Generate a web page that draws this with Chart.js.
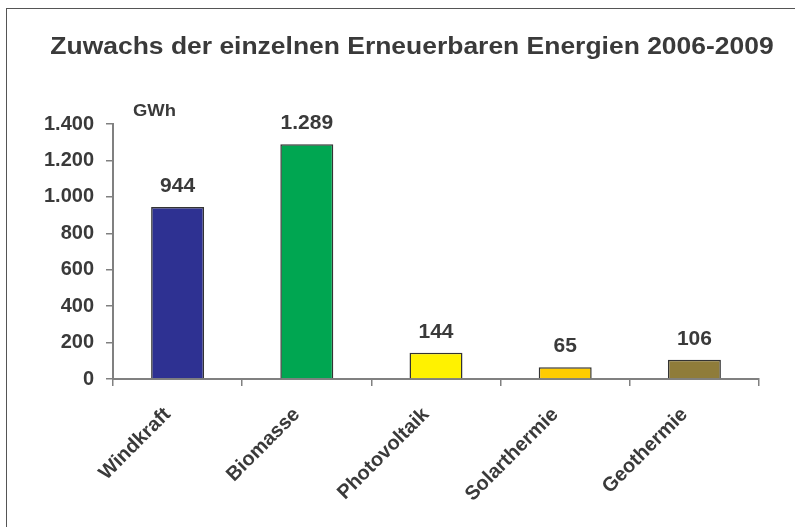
<!DOCTYPE html>
<html>
<head>
<meta charset="utf-8">
<script src="https://cdn.jsdelivr.net/npm/chart.js@4.4.1/dist/chart.umd.min.js"></script>
<style>
  html, body { margin: 0; padding: 0; background: #fff; }
  #wrap { position: relative; width: 795px; height: 527px; overflow: hidden; }
  #frame { position: absolute; left: 6px; top: 8px; width: 900px; height: 600px; border: 1.5px solid #555; }
  #c { position: absolute; left: 0; top: 0; }
</style>
</head>
<body>
<div id="wrap">
  <div id="frame"></div>
  <canvas id="c" width="795" height="527"></canvas>
</div>
<script>
const categories = ["Windkraft", "Biomasse", "Photovoltaik", "Solarthermie", "Geothermie"];
const values = [944, 1289, 144, 65, 106];
const barColors = ["#2E3192", "#00A651", "#FFF200", "#FFCC00", "#8F7C3A"];
const titleText = "Zuwachs der einzelnen Erneuerbaren Energien 2006-2009";
const unitLabel = "GWh";

const textColor = "#3a3a3a";
const axisColor = "#808080";
const fontFamily = "'Liberation Sans', Arial, sans-serif";

function fmt(v) {
  // German thousands separator
  return String(v).replace(/\B(?=(\d{3})+(?!\d))/g, ".");
}

// draws text a bit wider than the font, like the original export
function wideText(ctx, text, x, y, sx) {
  ctx.save();
  ctx.translate(x, y);
  ctx.scale(sx, 1);
  ctx.fillText(text, 0, 0);
  ctx.restore();
}

// title, unit label and value labels above the bars
const labelPlugin = {
  id: "labels",
  afterDatasetsDraw(chart) {
    const ctx = chart.ctx;
    const area = chart.chartArea;
    const meta = chart.getDatasetMeta(0);
    ctx.save();
    ctx.fillStyle = textColor;
    ctx.textBaseline = "alphabetic";

    ctx.font = "bold 23px " + fontFamily;
    ctx.textAlign = "center";
    wideText(ctx, titleText, 412, 54, 1.15);

    ctx.font = "bold 21px " + fontFamily;
    meta.data.forEach((bar, i) => {
      ctx.fillText(fmt(values[i]), bar.x, bar.y - 15);
    });

    ctx.font = "bold 16px " + fontFamily;
    ctx.textAlign = "left";
    wideText(ctx, unitLabel, area.left + 20, area.top - 8, 1.15);
    ctx.restore();
  }
};

new Chart(document.getElementById("c"), {
  type: "bar",
  data: {
    labels: categories,
    datasets: [{
      data: values,
      backgroundColor: barColors,
      borderColor: "#333",
      borderWidth: 1.5,
      barPercentage: 0.41,
      categoryPercentage: 1
    }]
  },
  options: {
    responsive: false,
    animation: false,
    layout: { padding: { top: 124, right: 36, left: 0, bottom: 0 } },
    plugins: {
      legend: { display: false },
      tooltip: { enabled: false },
      title: { display: false }
    },
    scales: {
      x: {
        offset: true,
        grid: { offset: true, drawOnChartArea: false, color: axisColor, tickLength: 7, lineWidth: 1.5 },
        border: { color: axisColor, width: 2 },
        ticks: {
          color: textColor,
          font: { family: fontFamily, size: 20, weight: "bold" },
          minRotation: 45,
          maxRotation: 45,
          padding: 17,
          labelOffset: -10
        },
        afterFit(scale) { scale.height = 148; }
      },
      y: {
        min: 0,
        max: 1400,
        grid: { drawOnChartArea: false, color: axisColor, tickLength: 7, lineWidth: 1.5 },
        border: { color: axisColor, width: 2 },
        ticks: {
          stepSize: 200,
          color: textColor,
          font: { family: fontFamily, size: 20, weight: "bold" },
          padding: 12,
          callback: v => fmt(v)
        },
        afterFit(scale) { scale.width = 113; }
      }
    }
  },
  plugins: [labelPlugin]
});
</script>
</body>
</html>
